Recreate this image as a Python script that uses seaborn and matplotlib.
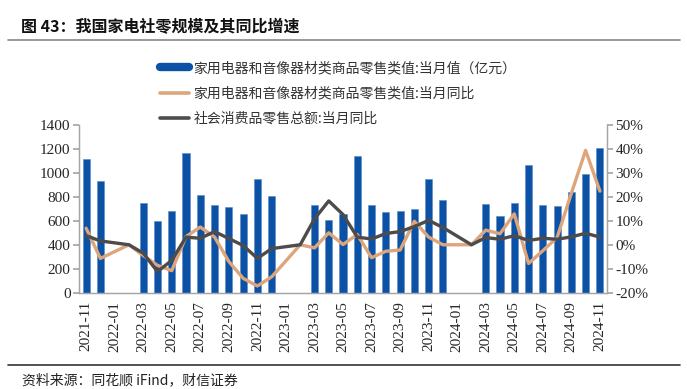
import numpy as np
import pandas as pd
import matplotlib
matplotlib.use('Agg')
import matplotlib.pyplot as plt
import seaborn as sns
from matplotlib.lines import Line2D

# ---- data ----
months = ['2021-11', '2021-12',
          '2022-01', '2022-02', '2022-03', '2022-04', '2022-05', '2022-06',
          '2022-07', '2022-08', '2022-09', '2022-10', '2022-11', '2022-12',
          '2023-01', '2023-02', '2023-03', '2023-04', '2023-05', '2023-06',
          '2023-07', '2023-08', '2023-09', '2023-10', '2023-11', '2023-12',
          '2024-01', '2024-02', '2024-03', '2024-04', '2024-05', '2024-06',
          '2024-07', '2024-08', '2024-09', '2024-10', '2024-11']

# 家用电器和音像器材类商品零售类值:当月值（亿元）
appliance_value = [1114, 932,
                   np.nan, np.nan, 751, 598, 682, 1164, 813, 732, 713, 654, 946, 805,
                   np.nan, np.nan, 732, 610, 654, 1144, 732, 677, 685, 695, 953, 772,
                   np.nan, np.nan, 740, 640, 751, 1064, 732, 724, 843, 994, 1204]

# 家用电器和音像器材类商品零售类值:当月同比（%）
appliance_yoy = [6.9, -5.7,
                 np.nan, 0.0, -4.5, -8.6, -10.8, 3.4, 7.4, 3.2, -7.0, -14.0, -17.2, -13.4,
                 np.nan, 0.0, -1.3, 5.0, 0.1, 4.3, -5.4, -2.7, -2.2, 9.8, 3.2, 0.0,
                 np.nan, 0.0, 6.1, 4.6, 12.9, -7.8, -2.5, 3.0, 21.5, 39.4, 22.4]

# 社会消费品零售总额:当月同比（%）
total_yoy = [3.8, 1.6,
             np.nan, 0.0, -3.5, -11.2, -6.5, 3.2, 2.7, 5.5, 2.6, -0.3, -5.7, -1.6,
             np.nan, 0.0, 10.8, 18.3, 12.6, 3.2, 2.4, 4.7, 5.5, 7.6, 10.2, 7.2,
             np.nan, 0.0, 3.0, 2.3, 3.8, 1.8, 2.7, 2.3, 3.3, 4.8, 3.2]

labels = ['家用电器和音像器材类商品零售类值:当月值（亿元）',
          '家用电器和音像器材类商品零售类值:当月同比',
          '社会消费品零售总额:当月同比']

COLORS = {'bar': '#0B52A6', 'app': '#DDA57C', 'total': '#4E4B4B', 'axis': '#A6A6A6'}

sns.set_theme(style="white")
plt.rcParams['font.family'] = ['Liberation Serif', 'Noto Sans CJK SC']
plt.rcParams['axes.unicode_minus'] = False

df = pd.DataFrame({'pos': np.arange(len(months)), 'month': months,
                   'value': appliance_value, 'app_yoy': appliance_yoy,
                   'total_yoy': total_yoy})

fig = plt.figure(figsize=(6.87, 3.89), dpi=100)
ax = fig.add_axes([0.115, 0.2476, 0.7686, 0.4311])

sns.barplot(data=df.dropna(subset=['value']), x='pos', y='value', native_scale=True,
            width=0.5, color=COLORS['bar'], saturation=1, edgecolor='#5A86C4',
            linewidth=0.4, ax=ax)

ax2 = ax.twinx()
d1 = df.dropna(subset=['app_yoy'])
d2 = df.dropna(subset=['total_yoy'])
sns.lineplot(x=d1['pos'], y=d1['app_yoy'], color=COLORS['app'], linewidth=2.4,
             sort=False, ax=ax2)
sns.lineplot(x=d2['pos'], y=d2['total_yoy'], color=COLORS['total'], linewidth=2.4,
             sort=False, ax=ax2)

ax.set_xlim(-0.5, len(months) - 0.5)
ax.set_ylim(0, 1400)
ax.set_yticks(range(0, 1401, 200))
ax2.set_ylim(-20, 50)
ax2.set_yticks(range(-20, 51, 10))
ax2.set_yticklabels([f'{v}%' for v in range(-20, 51, 10)])

# boundaries as major ticks, labels on minor ticks at centers
ax.set_xticks(np.arange(-0.5, len(months), 2))
ax.set_xticklabels([])
ax.set_xticks(np.arange(0, len(months), 2), minor=True)
ax.set_xticklabels(months[::2], minor=True, rotation=90)
ax.tick_params(axis='x', which='minor', length=0, pad=6, labelsize=11)
ax.tick_params(axis='x', which='major', length=4, color=COLORS['axis'], direction='out')
ax.tick_params(axis='y', length=4, color=COLORS['axis'], direction='out', labelsize=11, pad=2)
ax2.tick_params(axis='y', length=4, color=COLORS['axis'], direction='out', labelsize=11, pad=2)

for a in (ax, ax2):
    a.set_xlabel('')
    a.set_ylabel('')
    a.spines['top'].set_visible(False)
    for s in ('left', 'right', 'bottom'):
        a.spines[s].set_color(COLORS['axis'])
        a.spines[s].set_linewidth(0.9)

handles = [Line2D([], [], color=COLORS['bar'], linewidth=6),
           Line2D([], [], color=COLORS['app'], linewidth=2.6),
           Line2D([], [], color=COLORS['total'], linewidth=2.6)]
leg = fig.legend(handles, labels, loc='upper left', bbox_to_anchor=(0.216, 0.871),
                 frameon=False, handlelength=2.1, handletextpad=0.35, labelspacing=0.82,
                 borderpad=0.3, prop={'family': 'Noto Sans CJK SC', 'size': 10})
for t in leg.get_texts():
    t.set_color('#333333')

# title, source and separator lines
fig.text(0.03, 0.93, '图 43：我国家电社零规模及其同比增速', fontsize=11.5,
         fontweight='bold', family=['Noto Sans CJK SC'], va='center', color='#111111')
fig.add_artist(Line2D([0.012, 0.99], [0.898, 0.898], color='#888888', linewidth=1.2))
fig.add_artist(Line2D([0.012, 0.99], [0.062, 0.062], color='#333333', linewidth=1.2))
fig.text(0.032, 0.022, '资料来源：同花顺 iFind，财信证券', fontsize=10,
         family=['Noto Sans CJK SC'], style='italic', va='center', color='#222222')

fig.savefig('out.png', dpi=100)
